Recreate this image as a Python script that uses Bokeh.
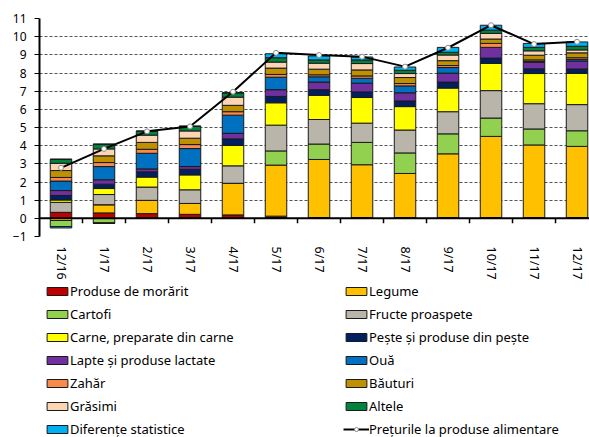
from bokeh.plotting import figure
from bokeh.layouts import column
from bokeh.models import (Legend, LegendItem, FixedTicker, Span, ColumnDataSource, Range1d)
from bokeh.embed import file_html
from bokeh.resources import INLINE

months = ["12/16", "1/17", "2/17", "3/17", "4/17", "5/17", "6/17",
          "7/17", "8/17", "9/17", "10/17", "11/17", "12/17"]

series_names = ["Produse de morărit", "Legume", "Cartofi", "Fructe proaspete",
                "Carne, preparate din carne", "Pește și produse din pește",
                "Lapte și produse lactate", "Ouă", "Zahăr", "Băuturi",
                "Grăsimi", "Altele", "Diferențe statistice"]
line_name = "Prețurile la produse alimentare"

morarit   = [0.33, 0.30, 0.26, 0.22, 0.19, 0.12, 0.00, 0.00, 0.00, 0.00, 0.00, 0.00, 0.00]
legume    = [-0.12, 0.45, 0.73, 0.60, 1.74, 2.81, 3.24, 2.95, 2.47, 3.55, 4.51, 4.04, 3.96]
cartofi   = [-0.33, -0.28, 0.00, 0.00, 0.00, 0.78, 0.85, 1.23, 1.13, 1.10, 1.01, 0.88, 0.86]
fructe    = [0.55, 0.56, 0.73, 0.75, 0.96, 1.42, 1.35, 1.06, 1.26, 1.22, 1.51, 1.39, 1.44]
carne     = [0.13, 0.33, 0.55, 0.82, 1.12, 1.23, 1.33, 1.41, 1.29, 1.30, 1.50, 1.66, 1.72]
peste     = [0.25, 0.24, 0.29, 0.31, 0.36, 0.35, 0.31, 0.31, 0.31, 0.33, 0.29, 0.26, 0.24]
lapte     = [0.27, 0.24, 0.16, 0.15, 0.31, 0.37, 0.42, 0.48, 0.45, 0.49, 0.59, 0.36, 0.44]
oua       = [0.52, 0.73, 0.86, 0.99, 1.00, 0.69, 0.29, 0.27, 0.38, 0.31, 0.00, 0.05, 0.09]
zahar     = [0.20, 0.22, 0.22, 0.22, 0.19, 0.15, 0.11, 0.13, 0.13, 0.11, 0.22, 0.08, 0.09]
bauturi   = [0.38, 0.37, 0.38, 0.35, 0.35, 0.35, 0.31, 0.33, 0.33, 0.27, 0.24, 0.26, 0.27]
grasimi   = [0.40, 0.38, 0.40, 0.40, 0.45, 0.33, 0.33, 0.35, 0.22, 0.31, 0.31, 0.24, 0.16]
altele    = [0.22, 0.26, 0.22, 0.26, 0.24, 0.24, 0.18, 0.20, 0.18, 0.15, 0.18, 0.19, 0.20]
diferente = [-0.08, 0.00, 0.00, 0.00, 0.00, 0.22, 0.22, 0.16, 0.18, 0.27, 0.27, 0.22, 0.24]

preturi = [2.78, 3.82, 4.79, 5.06, 6.97, 9.11, 8.99, 8.90, 8.35, 9.39, 10.63, 9.59, 9.72]

y_ticks = list(range(-1, 12))

colors = ["#C00000", "#FFC000", "#92D050", "#BAB5AA", "#FFFF00", "#002060",
          "#7030A0", "#0070C0", "#F98A4E", "#BF9000", "#FCD5B5", "#00843D", "#00B0F0"]

series = [morarit, legume, cartofi, fructe, carne, peste, lapte, oua,
          zahar, bauturi, grasimi, altele, diferente]

xs = list(range(len(months)))
data = {"x": xs, "preturi": preturi}
pos_keys, neg_keys = [], []
for i, s in enumerate(series):
    pk, nk = f"p{i}", f"n{i}"
    data[pk] = [max(v, 0.0) for v in s]
    data[nk] = [min(v, 0.0) for v in s]
    pos_keys.append(pk)
    neg_keys.append(nk)
src = ColumnDataSource(data)

FONT = "Noto Sans"
EDGE = "#1a1a1a"

p = figure(width=589, height=282, output_backend="svg", toolbar_location=None,
           x_range=Range1d(-0.5, 12.29), y_range=Range1d(-1, 11),
           min_border_left=39, min_border_right=0, min_border_top=18,
           min_border_bottom=45)
p.outline_line_color = None
p.background_fill_color = "white"
p.border_fill_color = "white"

pos_r = p.vbar_stack(pos_keys, x="x", width=0.5, source=src, color=colors,
                     line_color=EDGE, line_width=1)
for r, c in zip(pos_r, colors):
    r.glyph.fill_color = c
    r.glyph.line_color = EDGE
neg_r = p.vbar_stack(neg_keys, x="x", width=0.5, source=src, color=colors,
                     line_color=EDGE, line_width=1)
for r, c in zip(neg_r, colors):
    r.glyph.fill_color = c
    r.glyph.line_color = EDGE

p.add_layout(Span(location=0, dimension="width", line_color="black", line_width=2))
sep_x = [i + 0.5 for i in range(len(months) - 1)]
p.segment(x0=sep_x, y0=[0] * len(sep_x), x1=sep_x, y1=[-0.27] * len(sep_x),
          line_color="black", line_width=1.5)

line_r = p.line("x", "preturi", source=src, line_color="black", line_width=2)
pt_r = p.scatter("x", "preturi", source=src, marker="circle", size=5,
                 fill_color="white", line_color="#8c8c8c", line_width=1)

# y axis
p.yaxis.ticker = FixedTicker(ticks=y_ticks)
p.yaxis.axis_line_color = "black"
p.yaxis.axis_line_width = 2
p.yaxis.major_tick_out = 5
p.yaxis.major_tick_in = 0
p.yaxis.major_tick_line_color = "black"
p.yaxis.minor_tick_line_color = None
p.yaxis.major_label_standoff = 8
p.yaxis.major_label_text_font = FONT
p.yaxis.major_label_text_font_size = "12px"
p.yaxis.major_label_text_color = "black"

p.ygrid.ticker = FixedTicker(ticks=y_ticks)
p.ygrid.grid_line_color = "#555555"
p.ygrid.grid_line_dash = "3 2"
p.ygrid.grid_line_width = 1
p.xgrid.visible = False

# x axis
p.xaxis.ticker = FixedTicker(ticks=xs)
p.xaxis.major_label_overrides = {i: m for i, m in enumerate(months)}
p.xaxis.major_label_orientation = "vertical"
p.xaxis.axis_line_color = None
p.xaxis.major_tick_line_color = None
p.xaxis.minor_tick_line_color = None
p.xaxis.major_label_standoff = 4
p.xaxis.major_label_text_font = FONT
p.xaxis.major_label_text_font_size = "12.5px"
p.xaxis.major_label_text_color = "black"

# legend figure (frame is aligned with the main frame by the column layout)
lg = figure(width=589, height=155, output_backend="svg", toolbar_location=None,
            x_range=Range1d(0, 1), y_range=Range1d(0, 1),
            x_axis_location=None, y_axis_location=None, min_border=0)
lg.outline_line_color = None
lg.grid.visible = False

# legend proxies: one point each, placed outside the visible range
items = []
for n, c in zip(series_names, colors):
    r = lg.vbar(x=[-5], top=[-5], bottom=[-6], width=0.5, fill_color=c,
                line_color=EDGE, line_width=1)
    items.append(LegendItem(label=n, renderers=[r]))
lr = lg.line(x=[-6, -5], y=[-5, -5], line_color="black", line_width=2)
ls = lg.scatter(x=[-5], y=[-5], marker="circle", size=5, fill_color="white",
                line_color="#8c8c8c", line_width=1)
items.append(LegendItem(label=line_name, renderers=[lr, ls]))

legend = Legend(items=items, orientation="horizontal", ncols=2,
                location=(5, -1), margin=0, padding=0,
                glyph_width=26, glyph_height=10, label_height=10,
                label_width=268, label_standoff=0, spacing=5,
                label_text_font=FONT, label_text_font_size="13px",
                label_text_color="black",
                border_line_color=None, background_fill_alpha=0)
lg.add_layout(legend, "center")

layout = column(p, lg, spacing=0)
open("out.html", "w").write(file_html(layout, INLINE))
